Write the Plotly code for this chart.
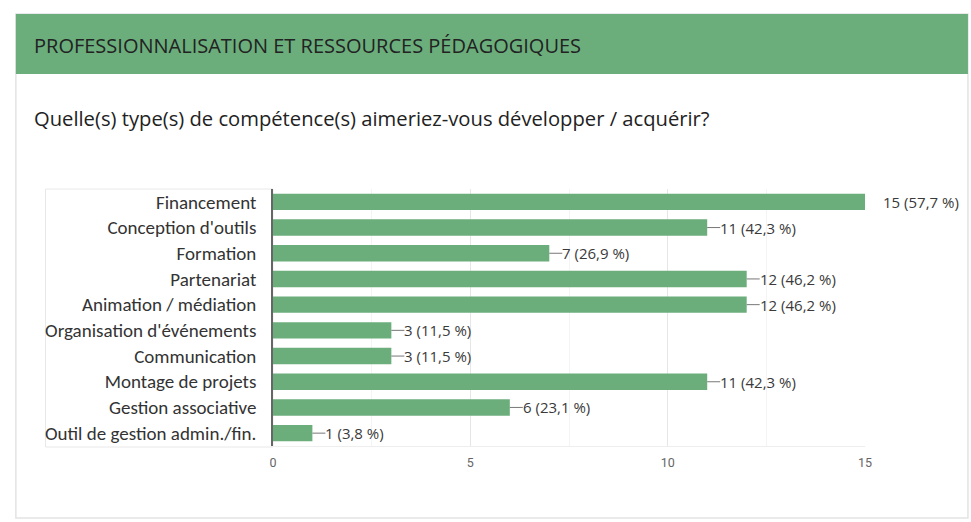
import plotly.graph_objects as go

categories = ["Financement", "Conception d'outils", "Formation", "Partenariat",
              "Animation / médiation", "Organisation d'événements", "Communication",
              "Montage de projets", "Gestion associative", "Outil de gestion admin./fin."]
counts = [15, 11, 7, 12, 12, 3, 3, 11, 6, 1]
percents = ["57,7", "42,3", "26,9", "46,2", "46,2", "11,5", "11,5", "42,3", "23,1", "3,8"]
x_ticks = [0, 5, 10, 15]

section_title = "PROFESSIONNALISATION ET RESSOURCES PÉDAGOGIQUES"
question = "Quelle(s) type(s) de compétence(s) aimeriez-vous développer / acquérir?"

W, H = 971, 522
GREEN = "#6bae7c"
XMAX = 15

def px(x):
    return x / W

def py(y):
    return 1 - y / H

fig = go.Figure()
fig.add_trace(go.Bar(
    x=counts, y=categories, orientation="h",
    marker=dict(color=GREEN, line=dict(width=0)),
    hoverinfo="skip", showlegend=False,
))

shapes = []
# card
shapes.append(dict(type="rect", xref="paper", yref="paper",
                   x0=px(12), x1=px(975), y0=py(518), y1=py(14),
                   line=dict(color="#e3e3e3", width=1.5), fillcolor="white", layer="below"))
# header band
shapes.append(dict(type="rect", xref="paper", yref="paper",
                   x0=px(12), x1=px(975), y0=py(74), y1=py(14),
                   line=dict(width=0), fillcolor=GREEN, layer="below"))
# label box
shapes.append(dict(type="rect", xref="paper", yref="paper",
                   x0=px(42), x1=px(272), y0=py(447), y1=py(189),
                   line=dict(color="#e8e8e8", width=1), fillcolor="rgba(0,0,0,0)", layer="below"))

annotations = [
    dict(text=section_title, x=px(28), y=py(45), xref="paper", yref="paper",
         xanchor="left", yanchor="middle", showarrow=False,
         font=dict(family="Open Sans", size=20, color="#222222")),
    dict(text=question, x=px(28), y=py(118), xref="paper", yref="paper",
         xanchor="left", yanchor="middle", showarrow=False,
         font=dict(family="Open Sans", size=20.2, color="#222222")),
]

LBL_FONT = dict(family="Open Sans", size=15, color="#3a3a3a")
for cat, v, p in zip(categories, counts, percents):
    label = f"{v} ({p} %)"
    if v >= XMAX:
        annotations.append(dict(text=label, x=v, y=cat, xref="x", yref="y",
                                xanchor="left", yanchor="middle", showarrow=False,
                                xshift=16, font=LBL_FONT))
    else:
        shapes.append(dict(type="line", xref="x", yref="y", xsizemode="pixel",
                           xanchor=v, x0=0, x1=13, y0=cat, y1=cat,
                           line=dict(color="#777777", width=1)))
        annotations.append(dict(text=label, x=v, y=cat, xref="x", yref="y",
                                xanchor="left", yanchor="middle", showarrow=False,
                                xshift=11, font=LBL_FONT))

fig.update_layout(
    width=W, height=H,
    margin=dict(l=0, r=0, t=0, b=0),
    paper_bgcolor="white", plot_bgcolor="rgba(0,0,0,0)",
    bargap=0.36,
    shapes=shapes, annotations=annotations,
    xaxis=dict(domain=[px(272), px(871)], range=[0, XMAX], tickvals=x_ticks,
               showgrid=True, gridcolor="#e6e6e6", gridwidth=1,
               minor=dict(dtick=2.5, showgrid=True, gridcolor="#f4f4f4"),
               zeroline=False, showline=True, linecolor="#eeeeee",
               ticks="", ticklabelstandoff=5,
               tickfont=dict(family="Roboto", size=12.5, color="#666666"), fixedrange=True),
    yaxis=dict(domain=[py(446), py(189)], autorange="reversed",
               showgrid=False, zeroline=False, showline=True, linecolor="#666666", linewidth=1.5,
               ticks="", ticklabelstandoff=11,
               tickfont=dict(family="Carlito, Noto Sans", size=19, color="#333333"), fixedrange=True),
    font=dict(family="Roboto"),
)

fig.write_html("out.html", config={"displayModeBar": False})
